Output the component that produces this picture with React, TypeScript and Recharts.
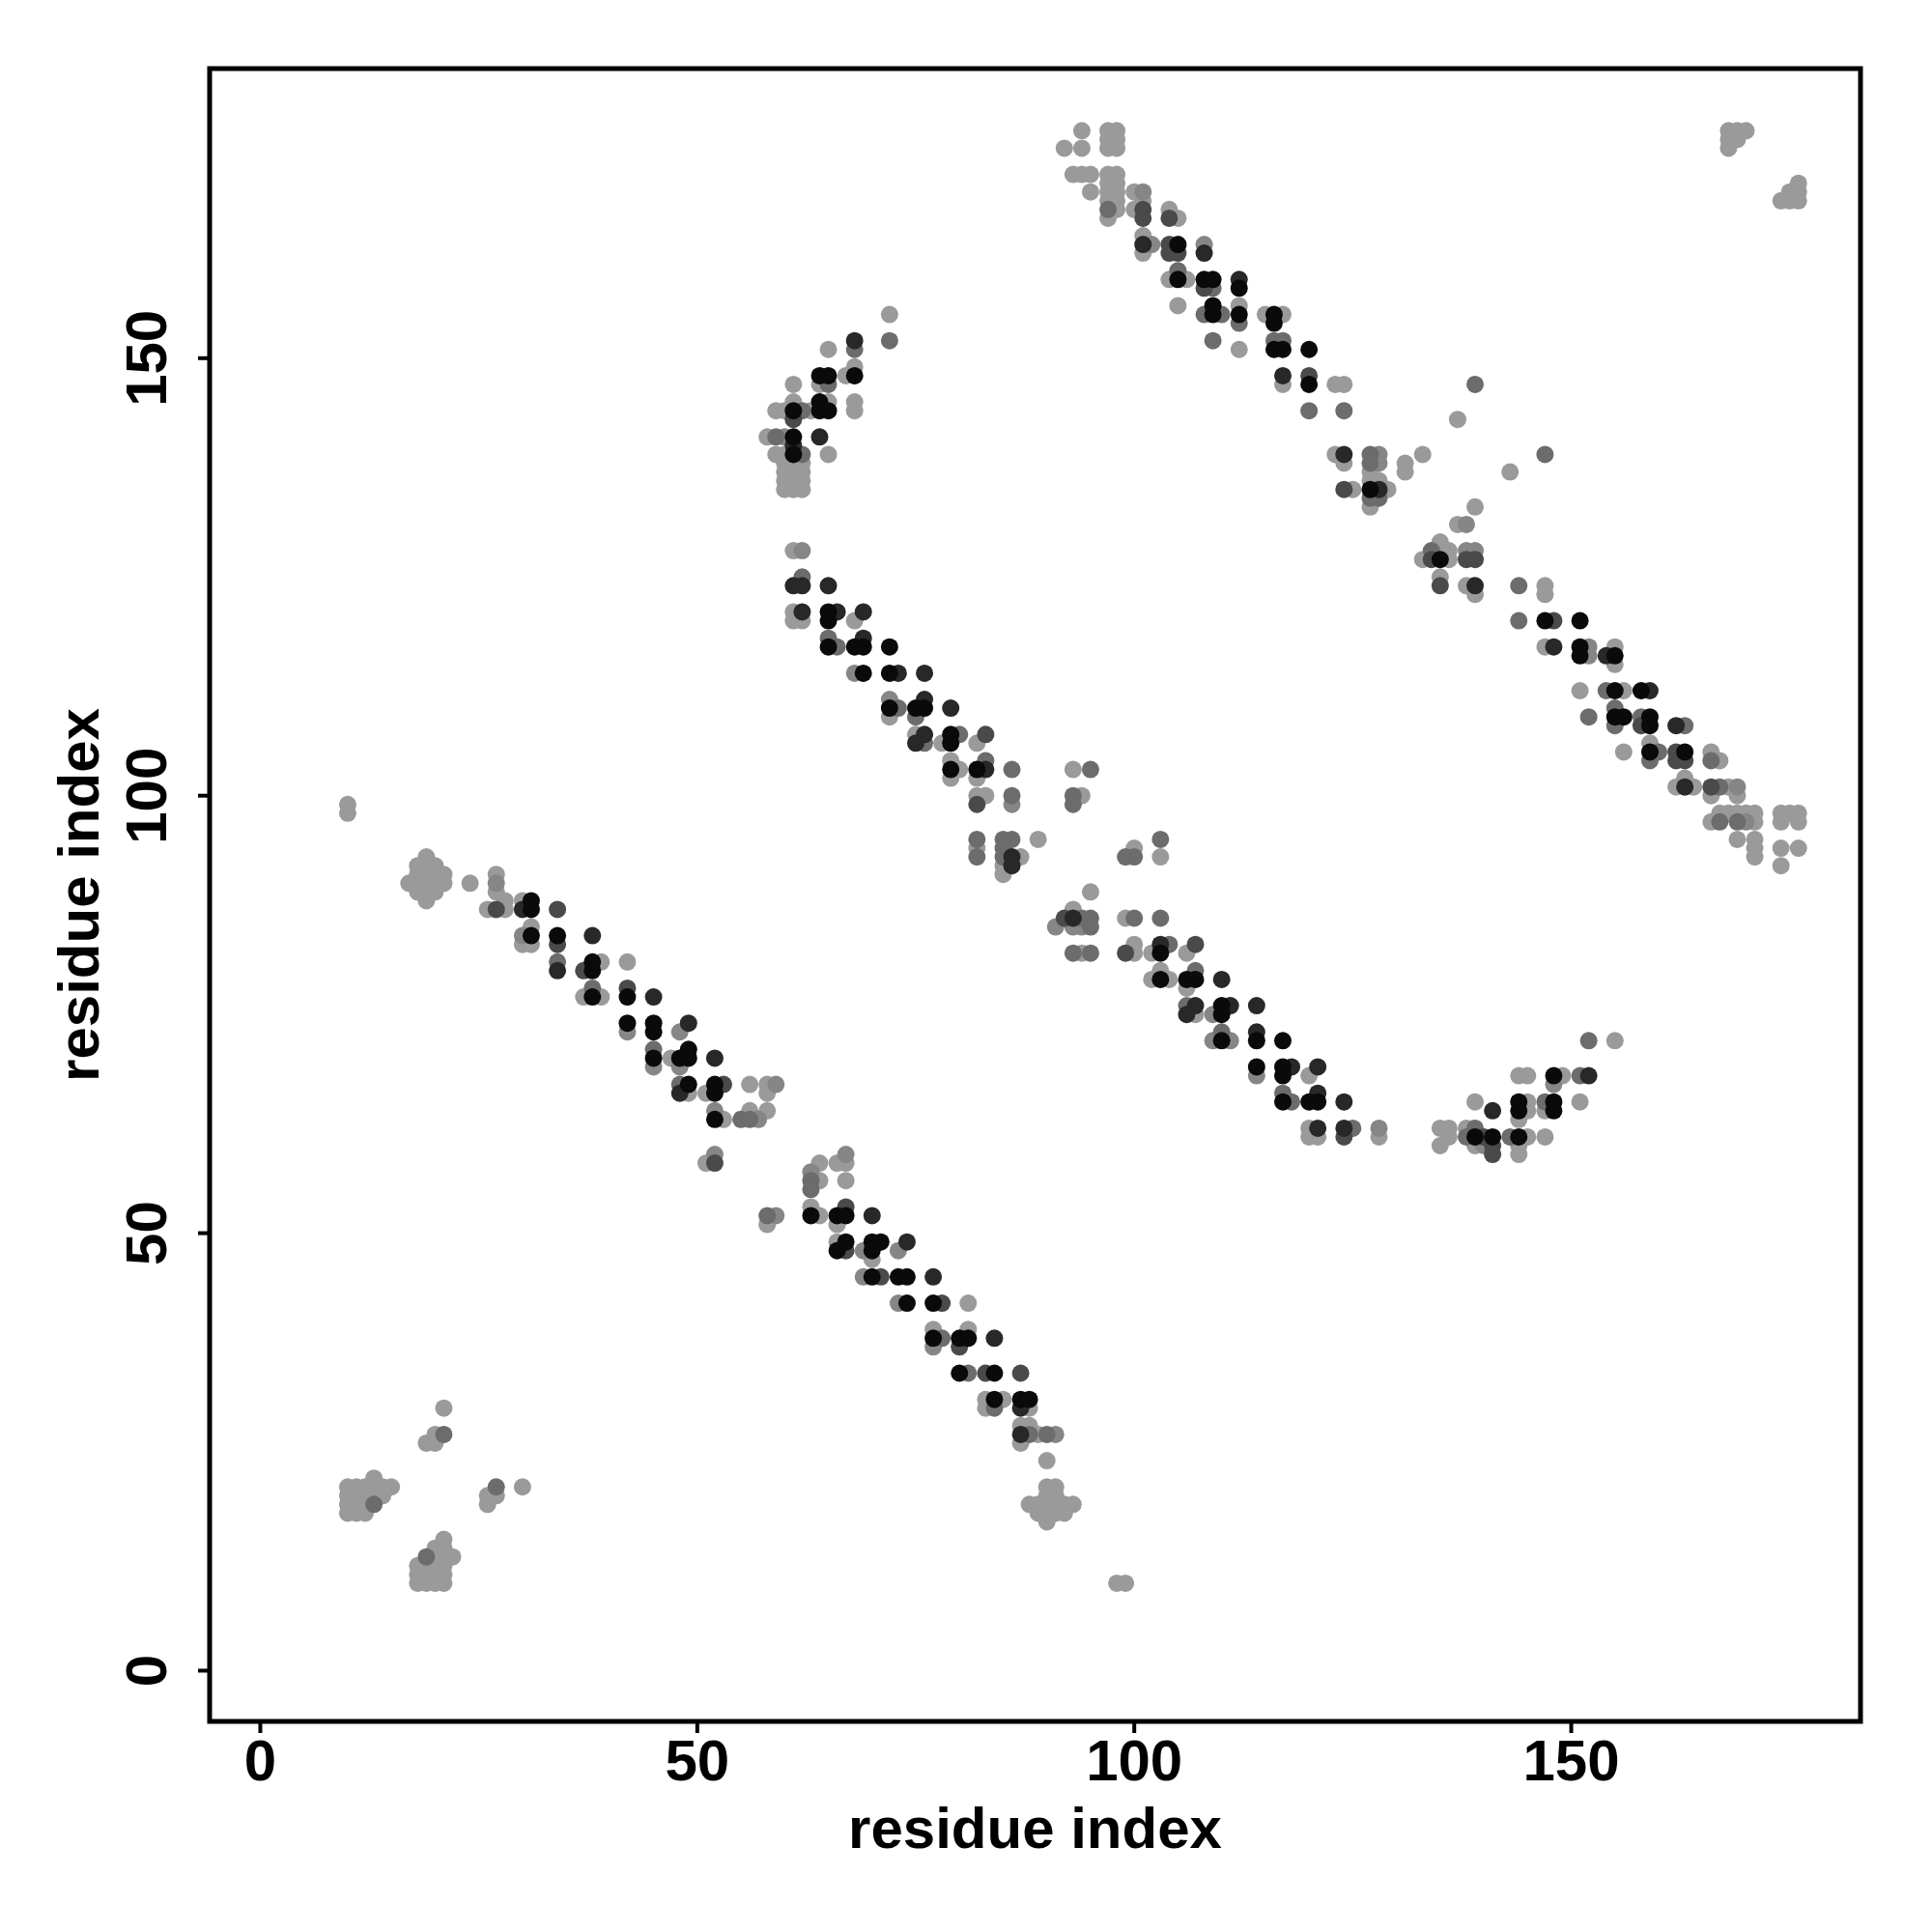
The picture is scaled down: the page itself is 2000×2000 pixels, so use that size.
import React from 'react';
import { ScatterChart, Scatter, XAxis, YAxis, ReferenceArea } from 'recharts';

type Pair = [number, number];

const xTicks = [0, 50, 100, 150];
const yTicks = [0, 50, 100, 150];
const axisDomain: [number, number] = [-5.8, 183.1];
const xTitle = 'residue index';
const yTitle = 'residue index';

// contact pairs grouped by gray level (lightest -> darkest)
const level1: Pair[] = [
  [21,30],[19,26],[20,26],[20,27],[10,18],[11,18],[12,18],[10,19],[11,19],[12,19],[10,20],[11,20],[12,20],[10,21],[11,21],[12,21],[13,22],[13,21],[13,20],[14,21],[14,20],[15,21],[26,20],[26,19],[27,20],[30,21],[18,10],[19,10],[20,10],[21,10],[18,11],[19,11],[20,11],[21,11],[18,12],[19,12],[20,12],[21,12],[20,13],[21,13],[22,13],[20,14],[21,14],[21,15],
  [10,99],[10,98],[19,93],[18,92],[19,92],[20,92],[18,91],[19,91],[20,91],[21,91],[17,90],[18,90],[19,90],[20,90],[21,90],[18,89],[19,89],[20,89],[19,88],[24,90],[27,91],[27,89],[28,88],[26,87],[28,87],[30,88],[31,85],[30,83],[31,83],[39,81],[42,81],[37,77],[39,77],[47,70],[49,66],[51,66],[56,67],[58,67],[58,66],[53,63],[56,64],[58,64],[51,58],
  [66,58],[67,58],[64,58],[64,56],[67,56],[58,51],[63,53],[64,52],[66,51],[66,49],[70,47],[81,42],[77,39],[81,39],[83,31],[83,30],[85,31],[88,30],[87,28],[88,28],[87,26],[89,27],[90,24],[90,21],[91,21],[90,20],[91,20],[88,19],[89,19],[90,19],[91,19],[92,19],[93,19],[89,18],[90,18],[91,18],[92,18],[90,17],[98,10],[99,10],
  [72,155],[65,151],[68,149],[67,148],[64,147],[61,147],[65,145],[68,145],[68,144],[61,145],[59,144],[60,144],[63,144],[58,141],[65,139],[60,139],[59,139],[60,138],[61,138],[62,138],[60,137],[61,137],[62,137],[60,136],[61,136],[62,136],[60,135],[61,135],[62,135],
  [61,128],[61,121],[61,120],[62,120],[68,120],[72,109],[75,107],[78,106],[82,106],[79,104],[80,103],[79,102],[82,102],[82,100],[83,100],[93,103],[94,100],[82,94],[87,93],[85,92],[85,91],[89,95],[95,89],
  [100,94],[103,93],[93,87],[99,86],[94,82],[100,83],[100,82],[102,82],[106,82],[103,80],[102,79],[104,79],[106,78],[107,75],[120,68],[120,62],[120,61],[121,61],[128,61],[135,62],[135,60],[136,62],[136,61],[138,62],[139,60],[139,65],[145,61],[144,63],[144,60],[144,59],[145,65],[145,64],[147,64],[147,61],[151,65],[144,68],[145,68],[149,68],[155,72],
  [94,176],[97,176],[98,176],[97,175],[98,175],[92,174],[94,174],[97,174],[98,174],[93,171],[94,171],[95,171],[97,171],[98,171],[97,170],[98,170],[95,169],[97,169],[98,169],[97,168],[98,168],[98,167],[97,166],[100,169],[101,168],[100,167],[104,167],[105,166],[101,164],[101,162],[104,159],[106,159],[105,156],[112,156],[115,155],[117,155],[112,151],[117,147],[123,147],[124,147],[137,143],[123,139],[124,138],[131,138],[131,137],[133,139],[125,135],[127,137],[127,136],[128,136],[129,135],[127,133],[143,137],[139,133],[137,131],
  [135,129],[133,127],[136,128],[136,127],[135,125],[138,124],[139,123],[147,124],[147,123],[147,117],[155,117],[155,115],[151,112],[156,112],[159,106],[156,105],[166,105],[167,104],[163,102],[162,101],[164,101],[168,101],[166,100],[169,100],[166,97],[167,98],[168,98],[169,98],[170,98],[171,98],[171,97],[174,98],[175,98],[176,98],[174,97],[176,97],[169,95],[171,95],[171,94],[171,93],[174,94],[176,94],[174,92],
  [168,176],[169,176],[170,176],[168,175],[169,175],[168,174],[176,170],[175,169],[176,169],[174,168],[175,168],[176,168],
];

const level2: Pair[] = [
  [27,90],[30,84],[48,73],[48,69],[52,64],[57,63],[59,67],[52,59],[42,73],[45,69],
  [67,59],[63,57],[59,52],[69,48],[73,48],[69,45],[73,42],[77,37],[91,27],
  [60,141],[62,128],[68,114],[72,111],[86,99],
  [91,85],[94,85],[93,85],[109,75],[109,72],[111,72],[114,68],[128,62],[140,60],[148,67],
  [101,169],[102,163],[108,163],[128,139],[128,138],[138,131],
  [138,128],[139,128],[152,117],[152,116],[169,101],[170,97],
];

const level3: Pair[] = [
  [21,27],[13,19],[27,21],[19,13],
  [34,81],[38,78],[45,71],[48,67],[55,63],[56,63],
  [63,56],[63,55],[58,52],[78,38],[81,34],[84,30],[88,27],[90,27],
  [72,152],[68,151],[65,147],[62,144],[59,141],[62,139],
  [62,125],[65,118],[66,117],[73,110],[75,109],[76,106],[80,107],[83,104],[86,103],[86,100],[95,103],[93,100],[93,99],[82,95],[82,93],[85,95],[86,95],[85,94],[85,93],
  [99,93],[100,93],[103,95],[94,86],[95,86],[95,85],[93,82],[95,82],[100,86],[103,86],[104,83],[107,80],[106,76],[110,73],[117,66],[118,65],[125,62],[139,62],[138,61],[143,61],[147,65],[151,68],[152,72],
  [97,167],[105,160],[109,158],[110,155],[112,154],[109,152],[116,152],[117,152],[120,144],[124,144],[139,147],[127,139],[127,138],[147,139],[127,134],[128,134],[108,155],
  [134,128],[144,124],[144,120],[154,112],[152,109],[155,110],[155,108],[158,109],[163,108],[160,105],[159,104],[166,104],[167,101],[167,97],[169,97],
];

const level4: Pair[] = [
  [27,87],[34,87],[34,83],[37,80],[42,78],[53,67],[52,58],
  [67,53],[67,48],[71,45],[78,42],[80,37],[83,34],[87,34],
  [61,143],[83,107],[82,99],
  [92,86],[99,82],[107,83],[124,61],[140,61],[141,60],[141,59],
  [101,167],[101,166],[104,166],[104,163],[104,162],[105,162],[120,148],[124,135],[108,158],
  [134,127],[138,127],[139,127],[135,124],[148,120],[158,108],[162,105],[162,104],[163,104],[166,101],
];

const level5: Pair[] = [
  [30,87],[38,84],[34,80],[45,77],[49,74],[52,70],[48,66],
  [70,52],[74,49],[77,45],[84,38],[87,30],[87,27],
  [68,152],[64,141],[61,140],
  [61,124],[62,124],[65,124],[62,121],[66,121],[69,121],[69,118],[73,114],[76,114],[76,111],[79,110],[76,107],[75,106],[83,103],[86,93],[86,92],
  [93,86],[103,83],[110,79],[107,76],[106,75],[111,76],[114,76],[114,73],[118,69],[121,69],[121,66],[124,65],[121,62],[124,62],[141,64],[152,68],
  [101,163],[108,162],[112,159],[117,148],[124,139],[128,135],
  [139,124],[148,117],[154,116],[162,108],[159,112],[163,101],
];

const level6: Pair[] = [
  [31,88],[31,87],[31,84],[34,84],[38,81],[38,80],[38,77],[42,77],[42,74],[45,74],[45,73],[45,70],[48,70],[49,71],[49,70],[49,67],[52,67],[52,66],[52,63],
  [63,52],[66,52],[67,52],[67,49],[66,48],[70,49],[71,49],[70,48],[70,45],[73,45],[74,45],[74,42],[77,42],[77,38],[80,38],[81,38],[80,34],[84,34],[84,31],[87,31],[88,31],
  [68,148],[64,148],[65,148],[64,145],[64,144],[65,144],[61,144],[61,141],[61,139],
  [65,121],[65,120],[65,117],[68,117],[69,117],[72,117],[69,114],[72,114],[72,110],[75,110],[76,110],[79,107],[79,106],[79,103],[82,103],
  [103,82],[103,79],[106,79],[107,79],[110,76],[110,75],[110,72],[114,72],[117,72],[114,69],[117,69],[117,68],[117,65],[120,65],[121,65],[139,61],[141,61],[144,61],[144,65],[144,64],[148,65],[148,64],[148,68],
  [105,163],[105,159],[108,159],[109,159],[112,158],[109,156],[109,155],[112,155],[116,155],[116,154],[116,151],[117,151],[120,151],[120,147],[127,135],
  [135,127],[147,120],[151,120],[151,117],[151,116],[155,116],[155,112],[158,112],[155,109],[156,109],[159,109],[159,108],[159,105],[163,105],
];

const levels: Pair[][] = [level1, level2, level3, level4, level5, level6];
const levelColors = ['#9a9a9a', '#868686', '#6c6c6c', '#4a4a4a', '#282828', '#0a0a0a'];

// layout (chart coordinates)
const W = 1984;
const H = 1984;
const PLOT_LEFT = 209;
const PLOT_TOP = 63;
const PLOT_RIGHT = 1918;
const PLOT_BOTTOM = 1774;
const FONT = '"Liberation Sans", Arial, Helvetica, sans-serif';
const FS = 60;

const XTick = (props: any) => {
  const { x, payload } = props;
  return (
    <g>
      <line x1={x} x2={x} y1={PLOT_BOTTOM} y2={PLOT_BOTTOM + 12} stroke="#000" strokeWidth={4} />
      <text x={x} y={1835} textAnchor="middle" fontSize={FS} fontWeight="bold" fontFamily={FONT} fill="#000">
        {payload.value}
      </text>
    </g>
  );
};

const YTick = (props: any) => {
  const { y, payload } = props;
  const tx = 164;
  return (
    <g>
      <line x1={PLOT_LEFT - 12} x2={PLOT_LEFT} y1={y} y2={y} stroke="#000" strokeWidth={4} />
      <text
        x={tx}
        y={y}
        transform={`rotate(-90, ${tx}, ${y})`}
        textAnchor="middle"
        fontSize={FS}
        fontWeight="bold"
        fontFamily={FONT}
        fill="#000"
      >
        {payload.value}
      </text>
    </g>
  );
};

const XTitle = () => (
  <text x={(PLOT_LEFT + PLOT_RIGHT) / 2} y={1905} textAnchor="middle" fontSize={FS} fontWeight="bold" fontFamily={FONT} fill="#000">
    {xTitle}
  </text>
);

const YTitle = () => {
  const cx = 94;
  const cy = (PLOT_TOP + PLOT_BOTTOM) / 2;
  return (
    <text x={cx} y={cy} transform={`rotate(-90, ${cx}, ${cy})`} textAnchor="middle" fontSize={FS} fontWeight="bold" fontFamily={FONT} fill="#000">
      {yTitle}
    </text>
  );
};

const makeDot = (color: string) => (p: any) => <circle cx={p.cx} cy={p.cy} r={9} fill={color} />;

export default function App() {
  return (
    <div style={{ width: W, height: H, background: '#fff' }}>
      <ScatterChart width={W} height={H} margin={{ top: PLOT_TOP, right: W - PLOT_RIGHT, bottom: 0, left: 0 }}>
        <XAxis
          type="number"
          dataKey="x"
          domain={axisDomain}
          ticks={xTicks}
          allowDataOverflow
          height={H - PLOT_BOTTOM}
          axisLine={false}
          tickLine={false}
          tick={<XTick />}
          interval={0}
          label={<XTitle />}
        />
        <YAxis
          type="number"
          dataKey="y"
          domain={axisDomain}
          ticks={yTicks}
          allowDataOverflow
          width={PLOT_LEFT}
          axisLine={false}
          tickLine={false}
          tick={<YTick />}
          interval={0}
          label={<YTitle />}
        />
        {levels.map((lv, i) => (
          <Scatter
            key={i}
            data={lv.map(([x, y]) => ({ x, y }))}
            fill={levelColors[i]}
            shape={makeDot(levelColors[i])}
            isAnimationActive={false}
          />
        ))}
        <ReferenceArea
          x1={axisDomain[0]}
          x2={axisDomain[1]}
          y1={axisDomain[0]}
          y2={axisDomain[1]}
          fill="none"
          fillOpacity={0}
          stroke="#000"
          strokeWidth={5}
          ifOverflow="visible"
        />
      </ScatterChart>
    </div>
  );
}
